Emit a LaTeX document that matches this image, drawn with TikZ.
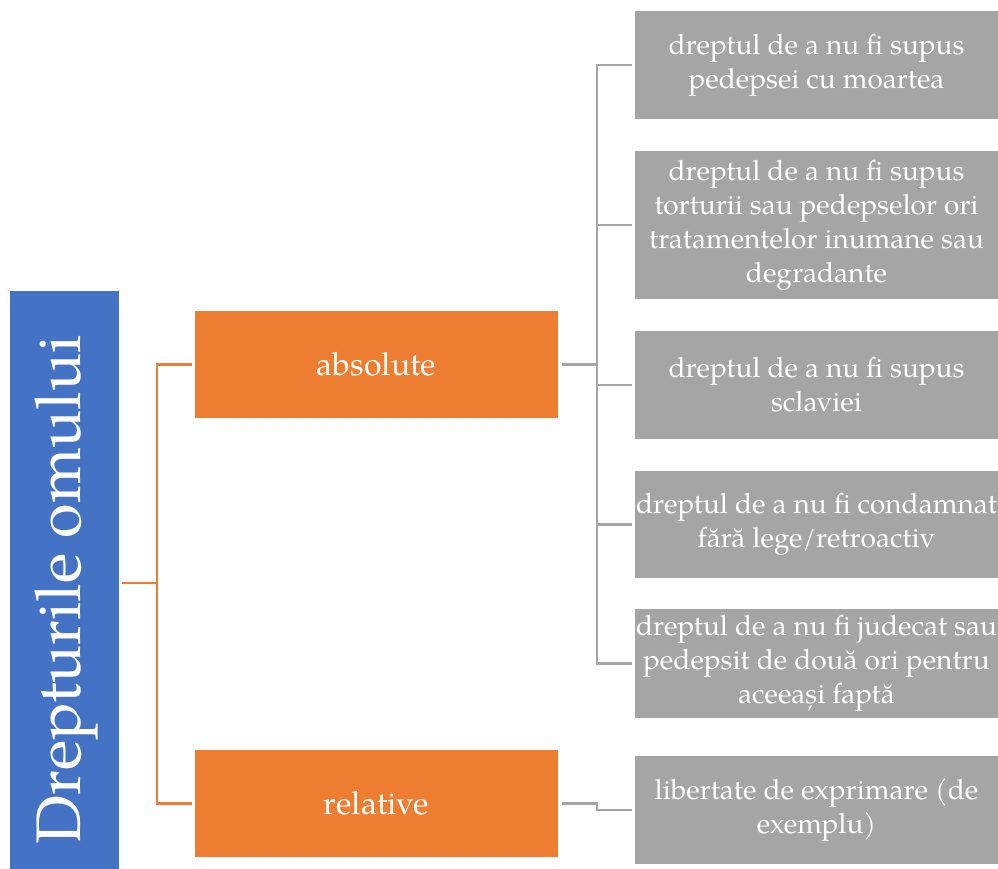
\documentclass[tikz,border=0pt]{standalone}
\usepackage{fontspec}
\setmainfont{TeX Gyre Pagella}
\usetikzlibrary{calc}
\definecolor{cblue}{HTML}{4472C4}
\definecolor{corange}{HTML}{ED7D31}
\definecolor{cgrey}{HTML}{A5A5A5}
\tikzset{
  obox/.style={fill=corange, draw=none, minimum width=363pt, minimum height=107pt, text=white, font=\fontsize{32}{38}\selectfont, inner sep=0pt},
  gbox/.style={fill=cgrey, draw=none, minimum width=363pt, text=white, align=center, font=\fontsize{28}{34}\selectfont, inner sep=0pt},
  oline/.style={draw=corange, line width=2.8pt, shorten <=3pt, shorten >=3pt},
  gline/.style={draw=cgrey, line width=2.8pt, shorten <=4pt, shorten >=3pt},
}
\begin{document}
\begin{tikzpicture}[x=1pt,y=-1pt]
\useasboundingbox (0,0) rectangle (998,869);
\node[fill=cblue, minimum width=109pt, minimum height=578pt, inner sep=0pt] (root) at (64.5,580) {};
\node[text=white, rotate=90, font=\fontsize{63}{70}\selectfont, inner sep=0pt] (roottxt) at (66,590) {Drepturile omului};
\node[obox] (abs) at (376.5,364.5) {absolute};
\node[obox] (rel) at (376.5,803.5) {relative};
\node[gbox, minimum height=108pt] (g1) at (816.5,65) {dreptul de a nu fi supus\\pedepsei cu moartea};
\node[gbox, minimum height=148pt] (g2) at (816.5,225) {dreptul de a nu fi supus\\torturii sau pedepselor ori\\tratamentelor inumane sau\\degradante};
\node[gbox, minimum height=108pt] (g3) at (816.5,385) {dreptul de a nu fi supus\\sclaviei};
\node[gbox, minimum height=107pt] (g4) at (816.5,524.5) {dreptul de a nu fi condamnat\\fără lege/retroactiv};
\node[gbox, minimum height=109pt] (g5) at (816.5,663.5) {dreptul de a nu fi judecat sau\\pedepsit de două ori pentru\\aceeași faptă};
\node[gbox, minimum height=108pt] (g6) at (816.5,810) {libertate de exprimare (de\\exemplu)};
\coordinate (m1) at (157,0);
\coordinate (m2) at (597,0);
\draw[oline] (root.east |- 0,583) -- (m1 |- 0,583) |- (abs.west);
\draw[oline] (root.east |- 0,583) -- (m1 |- 0,583) |- (rel.west);
\foreach \g in {g1,g2,g3,g4,g5} {
  \draw[gline] (abs.east) -- (m2 |- abs.east) |- (\g.west);
}
\draw[gline] (rel.east) -- (m2 |- rel.east) |- (g6.west);
\end{tikzpicture}
\end{document}
